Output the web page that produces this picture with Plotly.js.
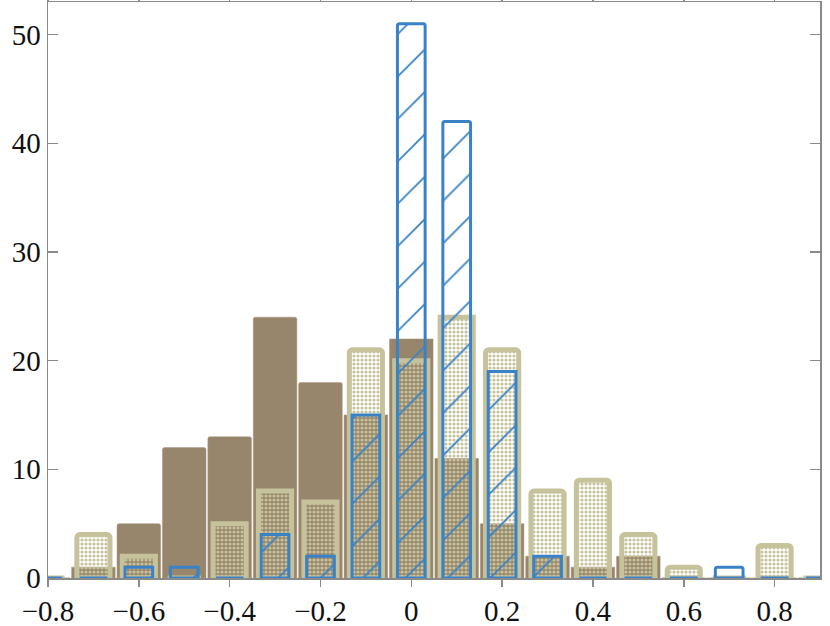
<!DOCTYPE html>
<html>
<head>
<meta charset="utf-8">
<script src="https://cdn.plot.ly/plotly-3.0.1.min.js"></script>
<style>
  html, body { margin: 0; padding: 0; background: #fff; }
  #chart { width: 830px; height: 626px; }
</style>
</head>
<body>
<div id="chart"></div>
<script>
// bin centres (width 0.1)
const binCenters = [-0.8, -0.7, -0.6, -0.5, -0.4, -0.3, -0.2, -0.1, 0, 0.1, 0.2, 0.3, 0.4, 0.5, 0.6, 0.7, 0.8, 0.9];

// counts per bin
const brownCounts = [0, 1, 5, 12, 13, 24, 18, 15, 22, 11, 5, 2, 1, 2, 0, 0, 0, 0];
const beigeCounts = [0, 4, 2, 0, 5, 8, 7, 21, 20, 24, 21, 8, 9, 4, 1, 0, 3, 0];
const blueCounts  = [0, 0, 1, 1, 0, 4, 2, 15, 51, 42, 19, 2, 0, 0, 0, 1, 0, 0];

const xTicks = [-0.8, -0.6, -0.4, -0.2, 0, 0.2, 0.4, 0.6, 0.8];
const yTicks = [0, 10, 20, 30, 40, 50];

const BROWN = '#98866c';
const BEIGE = '#c6c39c';
const BLUE = '#3a82c6';

const brownTrace = {
  type: 'bar',
  x: binCenters,
  y: brownCounts,
  width: 0.096,
  marker: {
    color: BROWN,
    line: { color: '#a8977e', width: 0.5 },
    cornerradius: 2
  },
  hoverinfo: 'x+y'
};

const beigeTrace = {
  type: 'bar',
  x: binCenters,
  y: beigeCounts,
  width: 0.073,
  marker: {
    color: BEIGE,
    line: { color: BEIGE, width: 5 },
    cornerradius: 3,
    pattern: {
      shape: '.',
      fillmode: 'replace',
      bgcolor: 'rgba(0,0,0,0)',
      fgcolor: BEIGE,
      size: 4,
      solidity: 0.5
    }
  },
  hoverinfo: 'x+y'
};

const blueTrace = {
  type: 'bar',
  x: binCenters,
  y: blueCounts,
  width: 0.061,
  marker: {
    color: 'rgba(0,0,0,0)',
    line: { color: BLUE, width: 3 },
    cornerradius: 2,
    pattern: {
      shape: '/',
      fillmode: 'replace',
      bgcolor: 'rgba(0,0,0,0)',
      fgcolor: BLUE,
      size: 30,
      solidity: 0.06
    }
  },
  hoverinfo: 'x+y'
};

const axisCommon = {
  showline: true,
  linecolor: '#8a8a8a',
  linewidth: 1.5,
  mirror: 'ticks',
  tickcolor: '#8a8a8a',
  tickwidth: 1.5,
  showgrid: false,
  zeroline: false,
  tickfont: { family: '"Liberation Serif", "DejaVu Serif", serif', size: 29, color: '#111' }
};

const layout = {
  width: 830,
  height: 626,
  margin: { t: 2, r: 10, l: 48, b: 48 },
  paper_bgcolor: '#fff',
  plot_bgcolor: '#fff',
  barmode: 'overlay',
  showlegend: false,
  xaxis: Object.assign({}, axisCommon, {
    range: [-0.8, 0.9],
    tickmode: 'array',
    tickvals: xTicks,
    ticktext: xTicks.map(v => v === 0 ? '0' : (v < 0 ? '\u2212' : '') + Math.abs(v).toFixed(1)),
    ticks: 'outside',
    ticklen: 7
  }),
  yaxis: Object.assign({}, axisCommon, {
    range: [0, 53],
    tickmode: 'array',
    tickvals: yTicks,
    ticks: 'inside',
    ticklen: 10
  })
};

Plotly.newPlot('chart', [brownTrace, beigeTrace, blueTrace], layout, { displayModeBar: false, staticPlot: true });
</script>
</body>
</html>
